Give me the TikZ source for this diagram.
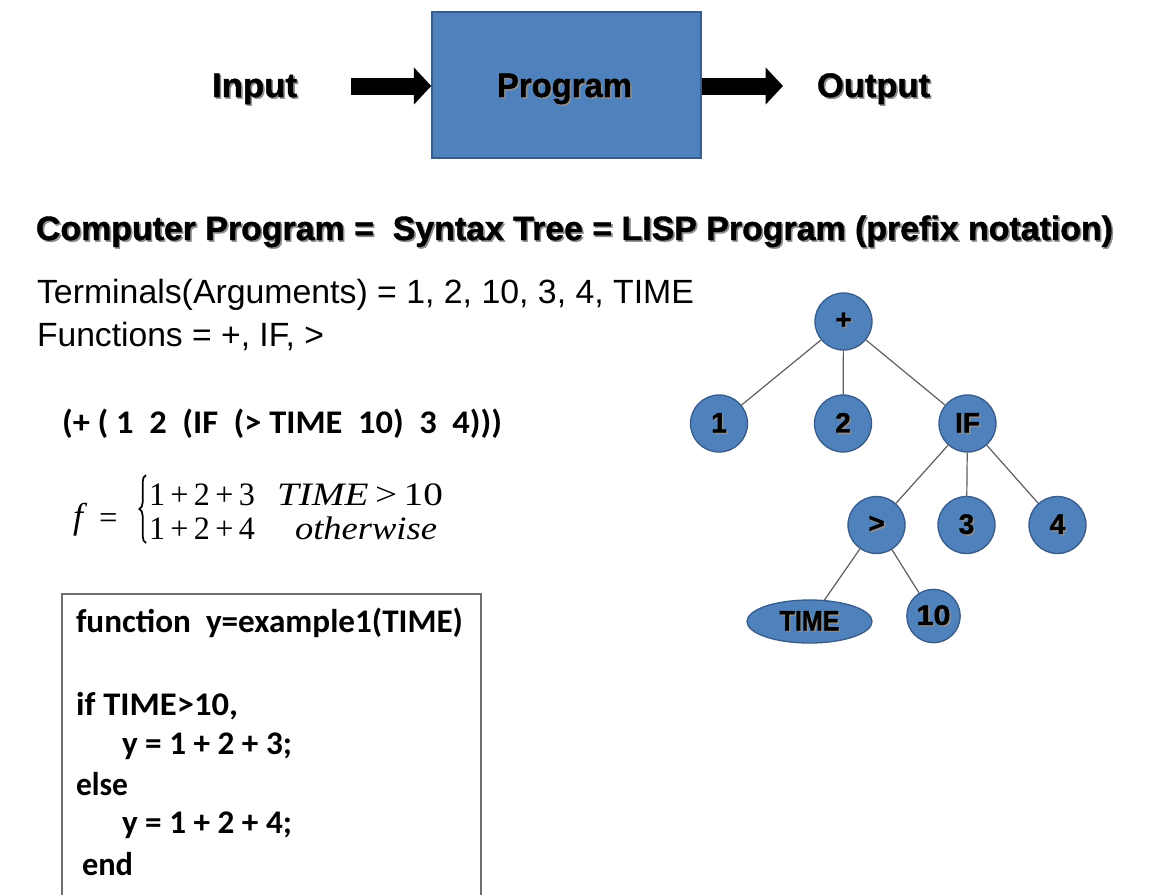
\documentclass[tikz,border=0pt]{standalone}
\usepackage{fontspec}
\setmainfont{Liberation Sans}
\newfontfamily\heavyfont{Liberation Sans}[BoldFeatures={FakeBold=1.2}]
\newfontfamily\calfont{Carlito}
\newfontfamily\seriffont{Liberation Serif}
\usetikzlibrary{arrows.meta,shapes.geometric,decorations.pathreplacing}

\definecolor{boxblue}{RGB}{79,129,189}
\definecolor{boxedge}{RGB}{56,93,138}
\definecolor{edgegray}{RGB}{95,95,95}
\definecolor{codeedge}{RGB}{110,110,110}

% set a text to a given width (in px of the picture grid), scaling it horizontally
\newsavebox\txtbox
\newlength\txtw
\newcommand\fitw[2]{\sbox\txtbox{#2}\txtw=\wd\txtbox\pgfmathsetmacro\fitr{#1*0.75/\txtw}\scalebox{\fitr}[1]{\usebox\txtbox}}
% text with a soft drop shadow
\newcommand\shtext[1]{\makebox[0pt][l]{\kern1.2pt\raisebox{-1.2pt}{\color{black!45}#1}}#1}

\tikzset{
  txt/.style={inner sep=0pt, outer sep=0pt, anchor=base west},
  toplabel/.style={txt, font=\fontsize{25.5pt}{30pt}\selectfont\heavyfont\bfseries},
  headline/.style={txt, font=\fontsize{25.3pt}{30pt}\selectfont\heavyfont\bfseries},
  plainline/.style={txt, font=\fontsize{25.2pt}{30pt}\selectfont},
  codeline/.style={txt, font=\fontsize{24.75pt}{30pt}\selectfont\calfont\bfseries},
  fml/.style={txt, font=\fontsize{24.5pt}{29pt}\selectfont\seriffont},
  flowarrow/.style={line width=12.75pt, -{Triangle[length=13pt 0, width=27pt 0]}},
  treenode/.style={circle, draw=boxedge, fill=boxblue, line width=1pt,
    minimum size=42.75pt, inner sep=0pt, font=\fontsize{21pt}{24pt}\selectfont\heavyfont\bfseries},
  treeedge/.style={draw=edgegray, line width=0.9pt},
  casebrace/.style={line width=1.3pt, decorate, decoration={brace, amplitude=5pt}},
}

\begin{document}
\begin{tikzpicture}[x=0.75pt, y=-0.75pt]
\path[use as bounding box, fill=white] (0,0) rectangle (1151,894);

% ---- Input -> Program -> Output ----
\node[draw=boxedge, fill=boxblue, line width=1.1pt, inner sep=0pt,
      minimum width=201.75pt, minimum height=109.5pt] (prog) at (566.5,85) {};
\node[toplabel] (progtxt) at (497,97) {\fitw{135}{\shtext{Program}}};
\node[toplabel] (inp) at (212,97) {\fitw{85}{\shtext{Input}}};
\node[toplabel] (outp) at (817,97) {\fitw{113}{\shtext{Output}}};
\coordinate (inStart) at (351,86);
\coordinate (outEnd) at (783,86);
\draw[flowarrow] (inStart) -- (inStart -| prog.west);
\draw[flowarrow] (prog.east |- outEnd) -- (outEnd);

% ---- headline and definitions ----
\node[headline] (title) at (36,240)
  {\fitw{1077}{\shtext{Computer Program =\ \ Syntax Tree = LISP Program (prefix notation)}}};
\node[plainline] (terms) at (37,303) {\fitw{657}{Terminals(Arguments) = 1, 2, 10, 3, 4, TIME}};
\node[plainline] (funcs) at (37,346) {\fitw{287}{Functions = +, IF, >}};

% ---- LISP expression ----
\node[codeline] (lisp) at (62,433) {\fitw{440}{(+ ( 1~~2~~(IF~~(> TIME~~10)~~3~~4)))}};

% ---- piecewise definition ----
\node[fml, font=\fontsize{27pt}{30pt}\selectfont\seriffont] (fsym) at (73,528) {\itshape f};
\node[fml] (eqsym) at (99,528) {=};
\coordinate (braceLow) at (146,543);
\coordinate (braceTop) at (146,475);
\draw[casebrace] (braceLow) -- (braceTop);
\node[fml] (r1a) at (149,505) {\fitw{106}{1\,+\,2\,+\,3}};
\node[fml] (r1b) at (277,505) {\fitw{166}{\textit{TIME}\,>\,10}};
\node[fml] (r2a) at (149,539) {\fitw{106}{1\,+\,2\,+\,4}};
\node[fml] (r2b) at (295,539) {\fitw{142}{\textit{otherwise}}};

% ---- MATLAB-style listing ----
\draw[codeedge, line width=1.1pt] (62,900) |- (481,594) -- (481,900);
\node[codeline] (c1) at (76,632) {\fitw{387}{function\ \ y=example1(TIME)}};
\node[codeline] (c2) at (76,715) {\fitw{162}{if TIME>10,}};
\node[codeline] (c3) at (122,754) {\fitw{170}{y = 1 + 2 + 3;}};
\node[codeline] (c4) at (76,795) {\fitw{52}{else}};
\node[codeline] (c5) at (122,833) {\fitw{170}{y = 1 + 2 + 4;}};
\node[codeline] (c6) at (82,875) {\fitw{51}{end}};

% ---- syntax tree ----
\node[treenode] (plus) at (843.5,321.5) {\shtext{+}};
\node[treenode] (one)  at (719,423.5) {\shtext{1}};
\node[treenode] (two)  at (843,423.5) {\shtext{2}};
\node[treenode] (ifn)  at (967.5,423.5) {\shtext{IF}};
\node[treenode] (gt)   at (876.5,525) {\shtext{>}};
\node[treenode] (three) at (966.5,525) {\shtext{3}};
\node[treenode] (four) at (1057.5,525) {\shtext{4}};
\node[treenode, ellipse, minimum width=93.75pt, minimum height=32.25pt] (time) at (809.5,621.5)
  {\fitw{60}{\shtext{TIME}}};
\node[treenode, minimum size=40pt] (ten) at (933.5,616) {\fitw{34}{\shtext{10}}};

\draw[treeedge] (plus) -- (one);
\draw[treeedge] (plus) -- (two);
\draw[treeedge] (plus) -- (ifn);
\draw[treeedge] (ifn) -- (gt);
\draw[treeedge] (ifn) -- (three);
\draw[treeedge] (ifn) -- (four);
\draw[treeedge] (gt) -- (time);
\draw[treeedge] (gt) -- (ten);
\end{tikzpicture}
\end{document}
